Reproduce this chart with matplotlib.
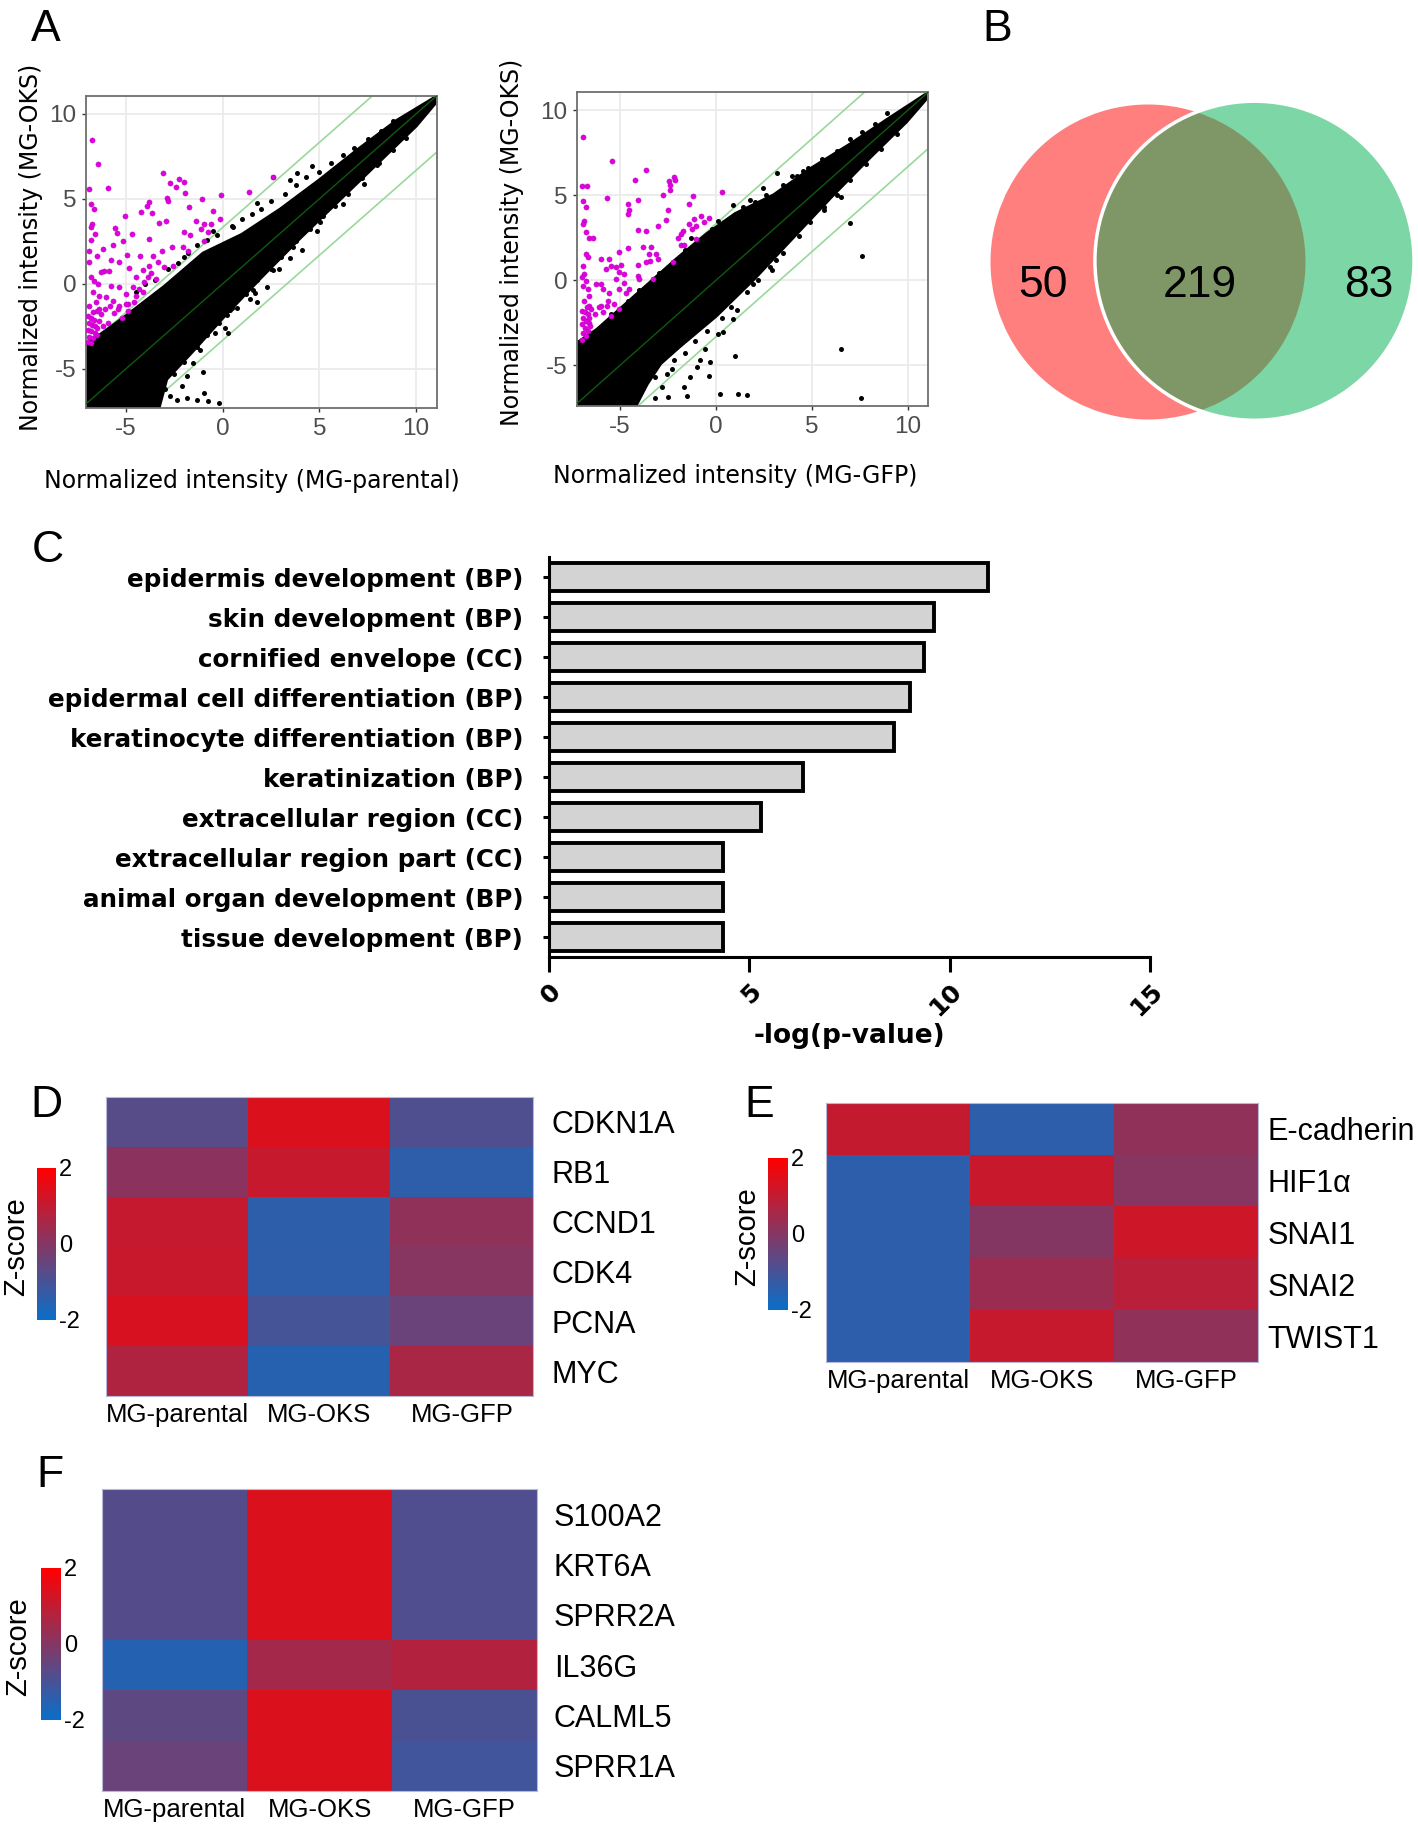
import numpy as np
import matplotlib

matplotlib.use("Agg")
import matplotlib.pyplot as plt
from matplotlib.colors import LinearSegmentedColormap
from matplotlib.patches import Circle, Polygon

plt.rcParams["axes.unicode_minus"] = False
plt.rcParams["font.family"] = ["Liberation Sans", "DejaVu Sans"]

# ----------------------
# DATA
# ----------------------

# panel A, left: MG-parental (x) vs MG-OKS (y)
# outline of the dense black cloud
CLOUD_L_X = [-7.06, -5.0, -3.0, -1.0, 1.0, 3.0, 5.0, 7.0, 9.0, 10.96,
             10.96, 10.0, 8.0, 6.0, 4.0, 2.0, 0.0, -1.5, -2.9, -3.3, -7.06]
CLOUD_L_Y = [-3.6, -1.9, -0.15, 1.8, 2.9, 4.4, 6.1, 7.9, 9.6, 10.95,
             10.6, 9.3, 7.1, 4.9, 2.7, 0.4, -2.0, -3.9, -5.6, -7.3, -7.3]
BLACK_L_X = [2.62, 4.6, 3.82, 3.48, 1.76, 0.55, 1.76, 1.67, 2.62, 3.65, 0.38, 0.21,
             0.72, -0.4, 0.29, -0.96, -0.74, -1.34, -1.86, -2.38, -1.17, -1.51,
             -1.86, -2.12, 1.58, 5.03, 3.48, -0.2, -1.0, 6.2, 7.3, 8.1, 4.9, 2.3,
             # fringe above the cloud
             -4.5, -4.0, -3.5, -2.8, -2.3, -1.8, -1.3, -0.8, -0.3, 0.5, 1.0, 1.5,
             2.0, 2.5, 3.2, 3.8, 4.3, 5.0, 5.6, 6.2, 6.8, 7.5, 8.2, 8.8, -2.0, -0.5,
             # fringe below the cloud
             9.5, 8.8, 8.0, 7.2, 6.5, 5.8, 5.2, 4.5, 3.8, 3.0, 2.5, 1.8, 1.2, 0.5,
             -0.2, -0.8, -1.3, -2.0, -2.5, -3.0, -2.7, 4.1, 2.9, 1.4, 0.1]
BLACK_L_Y = [6.3, 6.95, 6.5, 6.1, 4.74, 3.37, -1.04, -0.55, 0.82, 2.19, -1.53, -1.82,
             -1.43, -2.9, -2.86, -6.42, -6.91, -6.81, -6.71, -6.81, -3.87, -4.66,
             -5.44, -6.03, -0.35, 3.66, 1.51, -7.0, -5.2, 4.7, 5.9, 7.1, 3.1, -0.2,
             -0.5, 0.0, 0.2, 0.9, 1.2, 1.8, 2.3, 2.6, 2.9, 3.4, 3.8, 4.1,
             4.4, 4.9, 5.3, 5.8, 6.3, 6.6, 7.1, 7.6, 8.0, 8.5, 9.0, 9.6, 1.6, 3.1,
             8.6, 7.9, 7.0, 6.2, 5.3, 4.6, 4.0, 3.2, 2.5, 1.6, 0.9, 0.2, -0.6, -1.4,
             -2.3, -3.0, -3.7, -4.6, -5.3, -6.2, -6.6, 2.0, 0.9, -0.9, -2.6]
MAG_L_X = [-6.77, -6.46, -6.89, -5.91, -3.07, -2.72, -2.24, -2.02, -2.41, -1.95, -2.88,
           -2.84, -6.8, -6.63, -3.79, -3.91, -4.22, -3.67, -5.03, -1.09, -0.09, 1.37,
           2.58, -1.76, -0.52, -2.93, -3.31, -1.38, -0.95, -0.61, -6.75, -6.8, -5.56,
           -5.48, -4.7, -6.6, -1.12, -0.78, -0.14, -1.98, -1.69, -0.95, -6.8, -5.13,
           -3.82, -5.68, -2.62, -6.2, -2.03, -1.81, -3.14, -6.89, -3.62, -4.96, -4.27,
           -6.51, -5.77, -5.34, -3.79, -3.36, -3.02, -6.89, -2.58, -4.86, -6.11, -5.86,
           -6.29, -4.13, -3.7, -3.45, -6.8, -6.63, -6.46, -4.48, -3.88, -5.77, -5.34,
           -4.65, -4.31, -4.05, -6.72, -6.37, -4.99, -4.48, -4.13, -6.03, -5.68, -6.54,
           -5.34, -4.91, -6.89, -6.37, -6.72, -4.56,
           -6.95, -6.8, -6.65, -6.9, -6.75, -6.6, -6.95, -6.8, -6.6, -6.9, -6.7, -6.5,
           -6.95, -6.8, -6.5, -6.4, -6.3, -6.2, -6.1, -5.8, -5.6, -5.4, -5.2, -5.0,
           -4.9, -5.9, -6.5]
MAG_L_Y = [8.45, 7.04, 5.57, 5.61, 6.51, 5.96, 6.16, 6.0, 5.71, 5.34, 5.08, 4.89, 4.69,
           4.4, 4.79, 4.59, 4.2, 4.16, 3.97, 4.98, 5.22, 5.41, 6.28, 4.53, 4.26, 3.71,
           3.57, 3.67, 3.55, 3.55, 3.52, 3.32, 3.28, 2.99, 2.93, 2.93, 3.22, 3.03, 3.81,
           3.03, 2.89, 2.5, 2.58, 2.5, 2.64, 2.3, 2.15, 2.05, 2.15, 1.95, 1.95, 1.95,
           1.66, 1.7, 1.62, 1.66, 1.4, 1.27, 1.07, 1.27, 0.97, 1.27, 1.07, 0.93, 0.78,
           0.78, 0.68, 0.82, 0.64, 0.29, 0.38, 0.19, -0.01, 0.38, 0.38, -0.14, -0.2,
           -0.2, -0.3, 0.09, -0.5, -0.69, -0.59, -0.69, -0.5, -0.79, -0.99, -1.08,
           -1.28, -1.18, -1.28, -1.47, -1.67, -1.08,
           -1.9, -2.0, -2.1, -2.3, -2.4, -2.5, -2.7, -2.8, -2.9, -3.1, -3.2, -3.0,
           -3.4, -3.5, -2.6, -2.2, -1.8, -2.5, -1.5, -1.3, -1.7, -1.5, -2.0, -1.2,
           -1.6, -2.3, -1.6]

# panel A, right: MG-GFP (x) vs MG-OKS (y)
CLOUD_R_X = [-7.25, -6.2, -5.0, -3.5, -2.0, -0.5, 1.0, 3.0, 5.0, 7.0, 9.0, 10.9,
             10.9, 9.9, 8.0, 6.0, 4.0, 2.0, 0.0, -1.9, -2.9, -3.6, -4.2, -7.25]
CLOUD_R_Y = [-3.7, -2.9, -1.7, -0.2, 1.3, 2.7, 3.9, 5.0, 6.6, 8.0, 9.5, 10.9,
             10.6, 9.3, 7.2, 4.9, 2.5, 0.1, -2.1, -3.9, -4.9, -6.1, -7.4, -7.4]
BLACK_R_X = [7.0, 7.61, 6.53, 7.57, 0.99, 1.59, 1.16, 0.21, -0.35, -0.31, -0.57, 0.12,
             0.38, -1.0, -1.35, -1.7, -2.22, -2.56, -2.82, 1.07, 0.9, 3.15, 3.93, 4.54,
             2.46, 1.77, 0.9, 0.47, -0.83, -1.53, -2.5, -3.2, 5.6, 6.5, 2.9,
             # fringe above the cloud
             -5.5, -4.6, -4.0, -3.0, -2.5, -1.6, -1.0, -0.2, 0.4, 1.4, 2.0, 2.6,
             3.5, 4.2, 4.8, 5.5, 6.3, 7.0, 7.6, 8.3, 8.9, -1.3, 0.1,
             # fringe below the cloud
             9.4, 8.6, 7.8, 7.0, 6.3, 5.6, 4.9, 4.3, 3.5, 2.8, 2.2, 1.6, 0.8, 0.3,
             -0.5, -1.1, -1.6, -2.3, -3.2, -3.9, 3.1, 1.9]
BLACK_R_Y = [3.34, 1.43, -4.03, -6.94, -4.46, -6.78, -6.68, -6.72, -5.66, -4.81, -4.03,
             -3.14, -3.05, -5.1, -5.7, -6.29, -4.72, -5.5, -6.29, -1.77, -2.26, 6.29,
             6.13, 6.39, 5.4, 4.72, 4.42, 3.44, -4.72, -6.84, -6.9, -6.95, 4.1, 4.9, 0.6,
             -2.0, -1.2, -0.6, 0.4, 0.8, 1.8, 2.2, 3.0, 3.4, 4.3, 4.6, 5.0,
             5.6, 6.1, 6.6, 7.1, 7.6, 8.3, 8.7, 9.2, 9.8, 2.5, 3.5,
             8.6, 7.7, 6.8, 5.9, 5.0, 4.3, 3.4, 2.6, 1.6, 0.8, 0.0, -0.7, -1.6, -2.2,
             -3.0, -3.6, -4.3, -5.2, -5.7, -6.5, 1.2, -0.2]
MAG_R_X = [-6.92, -5.45, -3.66, -4.22, -7.0, -6.75, -2.45, -2.4, -2.19, -2.15, -2.4,
           -5.69, -4.09, -2.76, -6.92, 0.33, -4.61, -1.23, -6.78, -4.53, -4.61, -2.53,
           -1.41, -2.62, -1.15, -0.8, -0.63, -0.37, -6.87, -6.92, -1.41, -1.27, -1.06,
           -4.09, -3.63, -3.05, -6.78, -6.61, -6.43, -1.75, -1.84, -2.01, -1.06, -3.4,
           -4.61, -3.83, -1.84, -1.67, -6.78, -6.69, -6.0, -5.57, -5.08, -5.48, -3.52,
           -3.45, -3.14, -3.05, -2.27, -4.09, -3.66, -4.96, -5.22, -5.08, -6.95, -6.87,
           -5.74, -4.79, -7.0, -6.78, -6.26, -6.0, -5.22, -4.79, -4.53, -4.09, -4.01,
           -3.31, -6.95, -6.69, -5.91, -5.57, -5.05, -4.7, -6.61, -6.87, -5.65, -5.31,
           -6.0, -5.05, -6.61,
           -7.0, -6.85, -6.7, -6.95, -6.8, -6.65, -7.0, -6.85, -6.7, -6.95, -6.8, -7.0,
           -6.6, -6.5, -6.3, -6.1, -5.9, -5.7, -5.5, -6.75, -6.55]
MAG_R_Y = [8.41, 6.99, 6.48, 5.91, 5.52, 5.56, 5.85, 5.6, 6.05, 5.91, 5.3, 4.81, 4.73,
           5.03, 4.64, 5.17, 4.48, 4.97, 4.28, 4.14, 3.89, 4.14, 4.48, 3.54, 3.59, 3.75,
           3.44, 3.63, 3.5, 3.3, 3.3, 3.0, 3.2, 2.97, 2.89, 3.2, 2.81, 2.45, 2.47, 2.91,
           2.71, 2.47, 2.42, 1.92, 1.89, 1.92, 2.06, 2.06, 1.53, 1.34, 1.24, 1.24, 1.63,
           0.84, 1.53, 1.14, 1.53, 1.24, 1.04, 0.9, 1.04, 0.9, 0.75, 0.45, 0.84, 0.35,
           0.65, 0.35, 0.16, -0.04, -0.24, -0.24, 0.06, -0.14, -0.53, 0.25, 0.06, 0.06,
           -0.33, -0.53, -0.53, -0.73, -0.53, -0.73, -0.92, -1.22, -1.22, -1.42, -1.51,
           -1.71, -1.51,
           -1.8, -1.9, -2.0, -2.2, -2.4, -2.5, -2.6, -2.8, -3.0, -3.1, -3.3, -3.5,
           -2.2, -1.7, -2.0, -1.6, -1.9, -1.5, -2.1, -1.6, -2.7]

SCATTER_TICKS = [-5, 0, 5, 10]
FOLD_OFFSET = 3.32  # log2(10)

# panel B
VENN_COUNTS = [50, 219, 83]

# panel C
GO_TERMS = ["epidermis development (BP)", "skin development (BP)",
            "cornified envelope (CC)", "epidermal cell differentiation (BP)",
            "keratinocyte differentiation (BP)", "keratinization (BP)",
            "extracellular region (CC)", "extracellular region part (CC)",
            "animal organ development (BP)", "tissue development (BP)"]
GO_LOGP = [10.95, 9.6, 9.35, 9.0, 8.62, 6.35, 5.3, 4.35, 4.35, 4.35]

# panels D-F
SAMPLES = ["MG-parental", "MG-OKS", "MG-GFP"]
D_GENES = ["CDKN1A", "RB1", "CCND1", "CDK4", "PCNA", "MYC"]
D_Z = [[-0.73, 1.40, -0.86],
       [0.12, 1.08, -1.40],
       [1.05, -1.42, 0.20],
       [1.10, -1.40, 0.05],
       [1.35, -1.02, -0.45],
       [0.70, -1.52, 0.60]]
E_GENES = ["E-cadherin", "HIF1α", "SNAI1", "SNAI2", "TWIST1"]
E_Z = [[1.02, -1.43, 0.20],
       [-1.43, 1.10, 0.05],
       [-1.43, 0.00, 1.18],
       [-1.43, 0.37, 0.86],
       [-1.43, 1.07, 0.20]]
F_GENES = ["S100A2", "KRT6A", "SPRR2A", "IL36G", "CALML5", "SPRR1A"]
F_Z = [[-0.78, 1.40, -0.85],
       [-0.78, 1.40, -0.85],
       [-0.78, 1.40, -0.85],
       [-1.54, 0.53, 0.74],
       [-0.61, 1.40, -0.94],
       [-0.45, 1.40, -1.10]]

# ----------------------
# LAYOUT HELPERS
# ----------------------

W, H = 1418, 1828
fig = plt.figure(figsize=(W / 100, H / 100), dpi=100)


def box(left, top, right, bottom):
    return [left / W, 1 - bottom / H, (right - left) / W, (bottom - top) / H]


def fx(px):
    return px / W


def fy(py):
    return 1 - py / H


def panel_label(x, baseline, letter):
    fig.text(fx(x), fy(baseline), letter, fontsize=32, va="baseline", ha="left")


# ----------------------
# PANEL A: scatter plots
# ----------------------

def draw_scatter(ax, cx, cy, bx, by, mx, my, xlim, ylim):
    ax.set_xlim(*xlim)
    ax.set_ylim(*ylim)
    for t in SCATTER_TICKS:
        ax.axvline(t, color="#EBEBEB", lw=1.3, zorder=0)
        ax.axhline(t, color="#EBEBEB", lw=1.3, zorder=0)
    ax.add_patch(Polygon(np.column_stack([cx, cy]), closed=True, facecolor="black",
                         edgecolor="black", lw=2.5, joinstyle="round", zorder=2))
    ax.scatter(bx, by, s=13, color="black", lw=0, zorder=2)
    ax.scatter(mx, my, s=14, color="#E000E0", edgecolor="#B000B0", lw=0.3, zorder=3)
    line = np.array([-10, 14])
    ax.plot(line, line + FOLD_OFFSET, color="#9AD89A", lw=1.2, zorder=1)
    ax.plot(line, line - FOLD_OFFSET, color="#9AD89A", lw=1.2, zorder=1)
    ax.plot(line, line, color="#0E5A0E", lw=1.0, zorder=4)
    ax.set_xticks(SCATTER_TICKS)
    ax.set_yticks(SCATTER_TICKS)
    ax.tick_params(labelsize=17.5, labelcolor="#4D4D4D", color="#333333",
                   length=3, width=1, pad=4)
    for s in ax.spines.values():
        s.set_color("#6E6E6E")
        s.set_linewidth(1.3)


ax_l = fig.add_axes(box(86, 96, 437, 408))
draw_scatter(ax_l, CLOUD_L_X, CLOUD_L_Y, BLACK_L_X, BLACK_L_Y, MAG_L_X, MAG_L_Y,
             (-7.06, 11.08), (-7.3, 11.05))
ax_r = fig.add_axes(box(577, 92, 928, 406))
draw_scatter(ax_r, CLOUD_R_X, CLOUD_R_Y, BLACK_R_X, BLACK_R_Y, MAG_R_X, MAG_R_Y,
             (-7.25, 11.04), (-7.4, 11.06))

lab_kw = dict(fontsize=17, family="DejaVu Sans", ha="center", va="center")
fig.text(fx(31), fy(247), "Normalized intensity (MG-OKS)", rotation=90, **lab_kw)
fig.text(fx(252), fy(481), "Normalized intensity (MG-parental)", **lab_kw)
fig.text(fx(512), fy(242), "Normalized intensity (MG-OKS)", rotation=90, **lab_kw)
fig.text(fx(735), fy(476), "Normalized intensity (MG-GFP)", **lab_kw)

# ----------------------
# PANEL B: Venn diagram
# ----------------------

ax_v = fig.add_axes(box(960, 60, 1418, 460))
unit = 157.5  # px per radius unit
ax_v.set_xlim(-188 / unit, 270 / unit)
ax_v.set_ylim(198 / unit, -202 / unit)
ax_v.axis("off")
r1, r2 = 1.0, 1.013
c1, c2 = 0.0, 0.676
red = Circle((c1, 0), r1, facecolor="#FF7F7F", edgecolor="none")
green = Circle((c2, -0.008), r2, facecolor="#7DD6A5", edgecolor="none")
ax_v.add_patch(red)
ax_v.add_patch(green)
inter = Circle((c1, 0), r1, facecolor="#7F9767", edgecolor="none")
ax_v.add_patch(inter)
inter.set_clip_path(green)
ax_v.add_patch(Circle((c2, -0.008), r2, facecolor="none", edgecolor="white", lw=2.5))
label_x = [((c1 - r1) + (c2 - r2)) / 2, ((c2 - r2) + (c1 + r1)) / 2,
           ((c1 + r1) + (c2 + r2)) / 2 + 0.06]
for x, n in zip(label_x, VENN_COUNTS):
    ax_v.text(x, 0.15, str(n), fontsize=32, ha="center", va="center")

# ----------------------
# PANEL C: GO bar chart
# ----------------------

ax_c = fig.add_axes(box(549, 557, 1150, 957))
ypos = np.arange(len(GO_TERMS))
ax_c.barh(ypos, GO_LOGP, height=0.68, color="#D3D3D3", edgecolor="black", lw=2.8)
ax_c.set_ylim(len(GO_TERMS) - 0.5, -0.5)
ax_c.set_xlim(0, 15)
for s in ["top", "right"]:
    ax_c.spines[s].set_visible(False)
for s in ["left", "bottom"]:
    ax_c.spines[s].set_linewidth(2.2)
ax_c.set_yticks(ypos)
ax_c.set_yticklabels(GO_TERMS, fontsize=17.7, fontweight="bold", family="DejaVu Sans")
ax_c.tick_params(axis="y", length=4.5, width=2.2, pad=14)
ax_c.set_xticks([0, 5, 10, 15])
ax_c.set_xticklabels(["0", "5", "10", "15"], fontsize=18, fontweight="bold",
                     family="DejaVu Sans", rotation=45, ha="right",
                     rotation_mode="anchor")
ax_c.tick_params(axis="x", length=11, width=2.2, pad=5)
fig.text(fx(849), fy(1036), "-log(p-value)", fontsize=19, fontweight="bold",
         family="DejaVu Sans", ha="center", va="center")

# ----------------------
# PANELS D-F: heatmaps
# ----------------------

cmap = LinearSegmentedColormap.from_list("zs", ["#0A6EC8", "#FF0000"])


def draw_heatmap(hbox, cbox, zlab_xy, genes, z, row_pad):
    ax = fig.add_axes(box(*hbox))
    im = ax.imshow(np.array(z), cmap=cmap, vmin=-2, vmax=2, aspect="auto",
                   interpolation="nearest")
    ax.yaxis.tick_right()
    ax.set_yticks(range(len(genes)))
    ax.set_yticklabels(genes, fontsize=22)
    ax.set_xticks(range(len(SAMPLES)))
    ax.set_xticklabels(SAMPLES, fontsize=18.5)
    ax.tick_params(axis="y", length=0, pad=row_pad)
    ax.tick_params(axis="x", length=0, pad=5)
    for s in ax.spines.values():
        s.set_color("#B8B8D8")
        s.set_linewidth(0.8)
    cax = fig.add_axes(box(*cbox))
    cb = fig.colorbar(im, cax=cax, ticks=[-2, 0, 2])
    cb.outline.set_visible(False)
    cb.ax.set_yticklabels(["-2", "0", "2"])
    cax.tick_params(length=0, labelsize=17, pad=2)
    fig.text(fx(zlab_xy[0]), fy(zlab_xy[1]), "Z-score", fontsize=21, rotation=90,
             ha="center", va="center")


draw_heatmap((106, 1097, 533, 1396), (37, 1168, 56, 1320), (16, 1247), D_GENES, D_Z, 13)
draw_heatmap((826, 1103, 1258, 1362), (768, 1158, 788, 1310), (747, 1237), E_GENES, E_Z, 7)
draw_heatmap((102, 1489, 537, 1791), (41, 1568, 61, 1720), (18, 1647), F_GENES, F_Z, 12)

# ----------------------
# PANEL LETTERS
# ----------------------

panel_label(31, 41, "A")
panel_label(982, 41, "B")
panel_label(32, 562, "C")
panel_label(30, 1117, "D")
panel_label(744, 1117, "E")
panel_label(36, 1487, "F")

fig.savefig("out.png", dpi=100)
